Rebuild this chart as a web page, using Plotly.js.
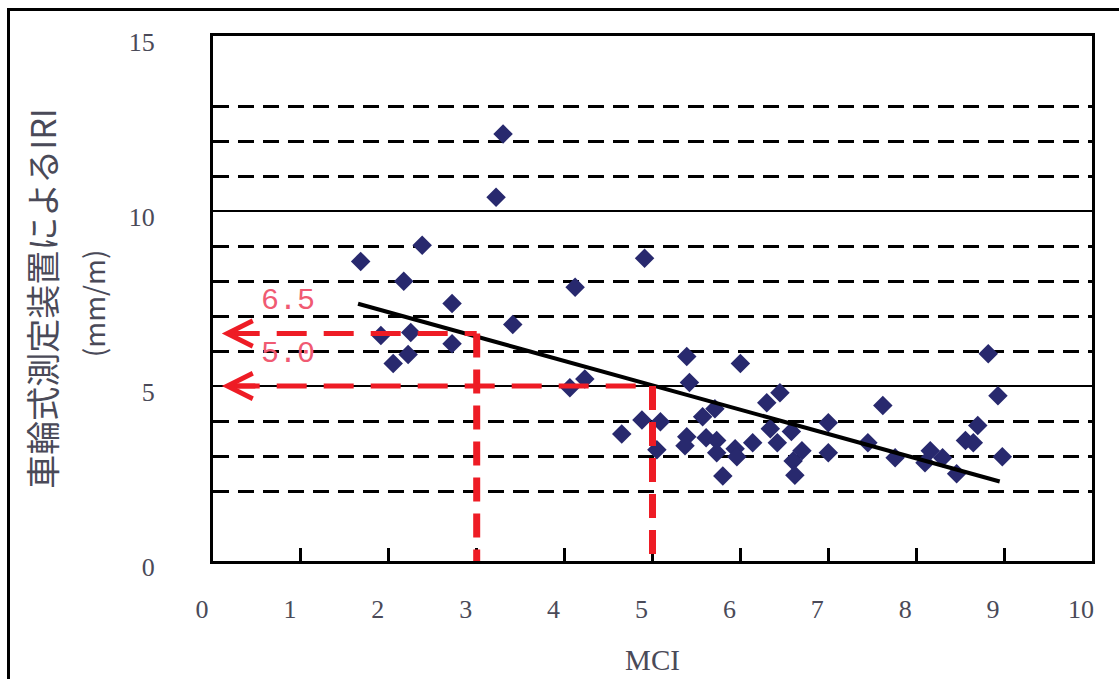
<!DOCTYPE html>
<html>
<head>
<meta charset="utf-8">
<script src="https://cdn.plot.ly/plotly-3.0.1.min.js"></script>
<style>
  html, body { margin: 0; padding: 0; background: #fff; }
  #wrap { position: relative; width: 1119px; height: 679px; overflow: hidden; }
  #chart { width: 1119px; height: 679px; }
  #frame { position: absolute; left: 7px; top: 8px; right: -10px; bottom: -10px;
           border-left: 3px solid #000; border-top: 3px solid #000; pointer-events: none; }
</style>
</head>
<body>
<div id="wrap"><div id="chart"></div><div id="frame"></div></div>
<script>
// ---- data ----
const mci = [3.30, 3.22, 2.38, 1.68, 2.17, 4.12, 4.91, 2.72, 3.41, 1.91, 2.25, 2.72, 2.05, 2.22, 4.06, 4.23,
             5.39, 6.00, 8.82, 5.42, 8.93, 6.45, 6.30, 7.62, 5.71, 5.57, 4.88, 5.09, 4.65, 5.39, 5.37, 5.61,
             5.73, 5.73, 5.94, 5.96, 6.14, 5.80, 6.34, 6.42, 6.58, 6.60, 6.62, 6.70, 7.00, 7.00, 7.45, 7.76,
             8.16, 8.10, 8.30, 8.46, 8.56, 8.65, 8.70, 8.98, 5.05];
const iri = [12.20, 10.39, 9.02, 8.56, 7.99, 7.82, 8.65, 7.36, 6.76, 6.44, 6.53, 6.21, 5.64, 5.90, 4.95, 5.20,
             5.84, 5.64, 5.92, 5.10, 4.72, 4.81, 4.52, 4.44, 4.35, 4.12, 4.03, 3.98, 3.63, 3.55, 3.29, 3.52,
             3.44, 3.09, 3.21, 2.98, 3.38, 2.43, 3.78, 3.38, 3.70, 2.86, 2.45, 3.15, 3.09, 3.95, 3.38, 2.95,
             3.15, 2.81, 2.95, 2.49, 3.44, 3.38, 3.87, 2.98, 3.18];
const fitX = [1.65, 8.95];
const fitY = [7.35, 2.27];
const readMCI = [3, 5];
const readIRI = [6.5, 5.0];
const readLabels = ['6.5', '5.0'];
const xTicks = [0, 1, 2, 3, 4, 5, 6, 7, 8, 9, 10];
const yTicks = [0, 5, 10, 15];
const yDashed = [2, 3, 4, 6, 7, 8, 9, 11, 12, 13];
const xTitle = 'MCI';
const yTitle = '車輪式測定装置によるIRI';
const yUnit = '(mm/m)';

// ---- styling ----
const RED = '#ee1c25';
const NAVY = '#28296e';
const TXT = '#4a4a58';
const arrowTip = 0.1;
const dashStart = 0.19;

const traces = [
  { x: mci, y: iri, type: 'scatter', mode: 'markers', name: 'IRI',
    marker: { symbol: 'diamond', size: 15, color: NAVY, line: { width: 0 } }, hoverinfo: 'x+y' },
  { x: fitX, y: fitY, type: 'scatter', mode: 'lines', name: 'fit',
    line: { color: '#000', width: 4 }, hoverinfo: 'skip' }
];

const shapes = [];
const annotations = [];
readMCI.forEach((xv, i) => {
  const yv = readIRI[i];
  shapes.push({ type: 'line', xref: 'x', yref: 'y', x0: dashStart, x1: xv, y0: yv, y1: yv,
                line: { color: RED, width: 5, dash: '30px,17px' }, layer: 'above' });
  shapes.push({ type: 'line', xref: 'x', yref: 'y', x0: xv, x1: xv, y0: yv, y1: 0,
                line: { color: RED, width: 7, dash: '24px,12px' }, layer: 'above' });
  annotations.push({ x: arrowTip, y: yv, xref: 'x', yref: 'y', text: '', showarrow: true,
                     ax: 35, ay: 0, arrowhead: 5, arrowsize: 1, arrowwidth: 5, arrowcolor: RED });
  annotations.push({ x: 0.85, y: yv + 0.92, xref: 'x', yref: 'y', text: readLabels[i], showarrow: false,
                     font: { family: 'Liberation Mono', size: 30, color: '#f05a72' } });
});
annotations.push({ xref: 'paper', yref: 'paper', x: -0.1365, y: 0.491, text: yUnit, showarrow: false,
                   textangle: -90, xanchor: 'center', yanchor: 'middle',
                   font: { family: 'Noto Sans CJK JP', size: 28, color: TXT } });

const layout = {
  width: 1119, height: 679,
  margin: { l: 213, r: 27, t: 36, b: 118 },
  paper_bgcolor: '#fff', plot_bgcolor: '#fff',
  showlegend: false,
  font: { family: 'Liberation Serif', color: TXT },
  xaxis: {
    range: [0, 10], tickvals: xTicks, ticktext: xTicks.map(String),
    ticks: 'inside', ticklen: 13, tickwidth: 3, tickcolor: '#000',
    showline: true, linecolor: '#000', linewidth: 3, mirror: true,
    showgrid: false, zeroline: false,
    tickfont: { family: 'Liberation Serif', size: 26, color: TXT },
    ticklabelstandoff: 23, ticklabelshift: -11,
    title: { text: xTitle, standoff: 27, font: { family: 'Liberation Serif', size: 29, color: TXT } }
  },
  yaxis: {
    range: [0, 15], tickvals: yTicks, ticktext: yTicks.map(String),
    ticks: 'inside', ticklen: 8, tickwidth: 2, tickcolor: '#000',
    showline: true, linecolor: '#000', linewidth: 3, mirror: true,
    showgrid: true, gridcolor: '#000', gridwidth: 2, zeroline: false,
    minor: { tickvals: yDashed, showgrid: true, gridcolor: '#000', gridwidth: 3, griddash: '16px,9px',
             ticks: 'inside', ticklen: 8, tickcolor: '#000', tickwidth: 2 },
    tickfont: { family: 'Liberation Serif', size: 26, color: TXT },
    ticklabelstandoff: 50, ticklabelshift: 6,
    title: { text: yTitle, standoff: 62, font: { family: 'Noto Sans CJK JP', size: 34, color: TXT } }
  },
  shapes: shapes,
  annotations: annotations
};

Plotly.newPlot('chart', traces, layout, { displayModeBar: false, staticPlot: true });
</script>
</body>
</html>
